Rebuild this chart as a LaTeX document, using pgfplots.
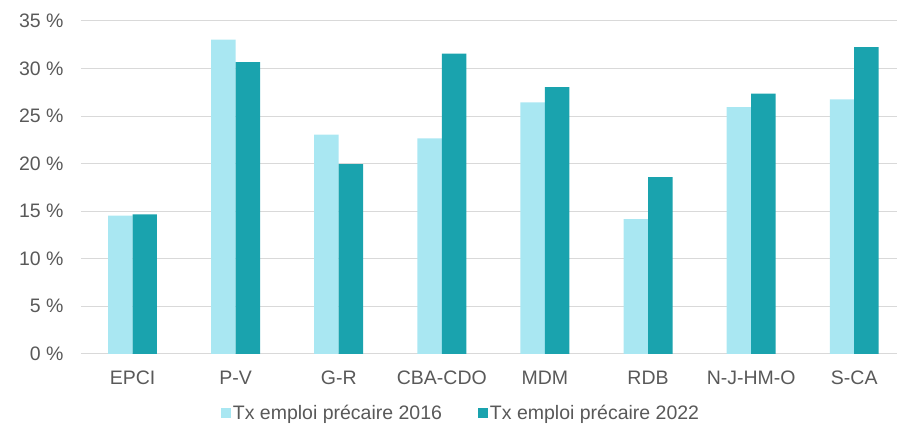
\documentclass[border=0pt]{standalone}
\usepackage{pgfplots}
\pgfplotsset{compat=1.18}
\usepackage{fontspec}
\setmainfont{Liberation Sans}
\definecolor{light}{HTML}{A9E7F2}
\definecolor{dark}{HTML}{1AA3AE}
\definecolor{txt}{HTML}{595959}
\definecolor{grd}{HTML}{D9D9D9}
\begin{document}
\begin{tikzpicture}
\begin{axis}[
    scale only axis,
    width=816pt, height=333pt,
    ybar=0pt, bar width=24.5pt,
    xmin=-0.5, xmax=7.41,
    ymin=0, ymax=35,
    xtick=data,
    xticklabels={EPCI,P-V,G-R,CBA-CDO,MDM,RDB,N-J-HM-O,S-CA},
    ytick={0,5,...,35},
    yticklabels={0 \%,5 \%,10 \%,15 \%,20 \%,25 \%,30 \%,35 \%},
    ymajorgrids, grid style={grd, line width=1pt},
    axis line style={draw=none},
    major tick length=0pt,
    tick label style={font=\fontsize{19.5}{21}\selectfont, text=txt},
    xticklabel style={yshift=-14pt},
    yticklabel style={xshift=-14pt},
    legend style={draw=none, at={(0.466,-0.177)}, anchor=center,
      legend columns=2, font=\fontsize{19.5}{21}\selectfont, text=txt,
      /tikz/every even column/.append style={column sep=34pt}},
    legend image code/.code={\fill[#1] (0pt,-5pt) rectangle (10pt,5pt);},
    clip=false,
  ]
  \addplot[fill=light, draw=none] coordinates {
    (0,14.52) (1,33.03) (2,23.04) (3,22.65) (4,26.44) (5,14.17) (6,25.95) (7,26.75)};
  \addplot[fill=dark, draw=none] coordinates {
    (0,14.66) (1,30.68) (2,19.95) (3,31.56) (4,28.05) (5,18.58) (6,27.35) (7,32.26)};
  \legend{Tx emploi précaire 2016, Tx emploi précaire 2022}
\end{axis}
\path (-81pt,-83pt) rectangle (816pt,354pt);
\end{tikzpicture}
\end{document}
